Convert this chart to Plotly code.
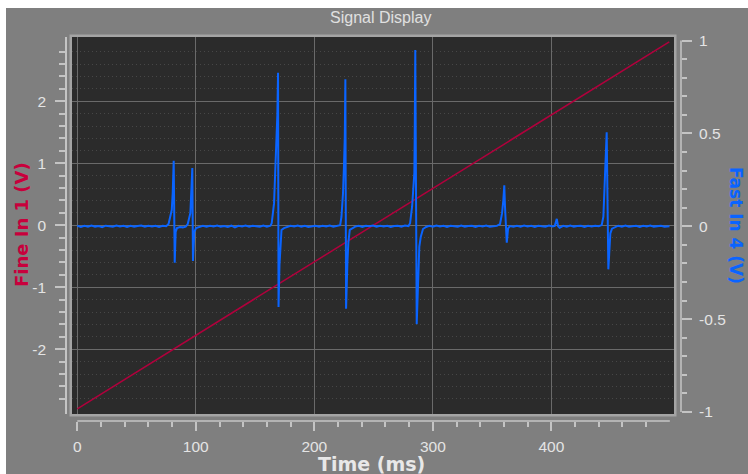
import plotly.graph_objects as go

# ---------------- data ----------------
X_TICKS = [0, 100, 200, 300, 400]
X_TICK_TEXT = ["0", "100", "200", "300", "400"]
X_MINOR = [20, 40, 60, 80, 120, 140, 160, 180, 220, 240, 260, 280,
           320, 340, 360, 380, 420, 440, 460, 480]
L_TICKS = [-2, -1, 0, 1, 2]
L_TICK_TEXT = ["-2", "-1", "0", "1", "2"]
L_MINOR = [-2.8, -2.6, -2.4, -2.2, -1.8, -1.6, -1.4, -1.2, -0.8, -0.6, -0.4, -0.2,
           0.2, 0.4, 0.6, 0.8, 1.2, 1.4, 1.6, 1.8, 2.2, 2.4, 2.6, 2.8]
R_TICKS = [-1, -0.5, 0, 0.5, 1]
R_TICK_TEXT = ["-1", "-0.5", "0", "0.5", "1"]
R_MINOR = [-0.9, -0.8, -0.7, -0.6, -0.4, -0.3, -0.2, -0.1,
           0.1, 0.2, 0.3, 0.4, 0.6, 0.7, 0.8, 0.9]

# Fine In 1 (V): ramp
RED_T = [0, 499.5]
RED_V = [-2.96, 2.96]

# Fast In 4 (V): spikes on a noisy baseline
BLUE_T = [0, 3, 6, 9, 12, 15, 18, 21, 24, 27, 30, 33, 36, 39, 42, 45, 48, 51, 54, 57,
          60, 63, 66, 69, 72, 75,
          77.0, 79.7, 80.5, 81.35, 82.2, 83.0, 84.1, 86.6,
          89, 91.5,
          93.2, 95.4, 96.2, 97.05, 97.6, 98.7, 100.2,
          103, 106, 109, 112, 115, 118, 121, 124, 127, 130, 133, 136, 139, 142, 145,
          148, 151, 154, 157, 160, 163,
          164.05, 166.0, 167.1, 168.0, 168.8, 169.4, 169.8, 170.6, 171.6, 172.3, 174.4,
          177, 180, 183, 186, 189, 192, 195, 198, 201, 204, 207, 210, 213, 216, 219,
          221.8, 222.9, 224.2, 225.1, 225.7, 226.2, 226.8, 227.9, 228.7, 229.9, 231.9,
          234.5, 237.5, 240.5, 243.5, 246.5, 249.5, 252.5, 255.5, 258.5, 261.5, 264.5,
          267.5, 270.5, 273.5, 276.5, 279.5,
          280.8, 282.5, 283.5, 284.4, 284.7, 285.2, 286.4, 287.5, 288.6, 289.8, 291.7, 294.3,
          297, 300, 303, 306, 309, 312, 315, 318, 321, 324, 327, 330, 333, 336, 339,
          342, 345, 348, 351, 354,
          356.7, 358.4, 359.5, 360.3, 360.9, 362.4, 363.5, 365.1,
          368, 371, 374, 377, 380, 383, 386, 389, 392, 395, 398, 401,
          402.9, 404.6, 405.7, 407,
          410, 413, 416, 419, 422, 425, 428, 431, 434, 437, 440,
          442.5, 443.9, 444.7, 445.3, 445.9, 446.7, 448.1, 448.9, 449.8, 451.2, 453.7,
          456.5, 459.5, 462.5, 465.5, 468.5, 471.5, 474.5, 477.5, 480.5, 483.5, 486.5,
          489.5, 492.5, 495.5, 498.5, 499.7]
BLUE_V = [0.003, -0.004, 0.002, -0.003, 0.004, -0.002, 0.001, -0.005, 0.003, 0.000,
          -0.003, 0.004, -0.001, 0.002, -0.004, 0.003, -0.002, 0.001, 0.004, -0.003,
          0.002, -0.001, 0.003, -0.004, 0.002, 0.000,
          0.012, 0.087, 0.179, 0.353, -0.197, -0.030, -0.010, -0.004,
          -0.006, -0.002,
          0.012, 0.071, 0.159, 0.313, -0.187, -0.031, -0.010,
          -0.004, 0.002, -0.003, 0.003, -0.001, 0.004, -0.002, 0.001, -0.004, 0.003,
          -0.006, 0.002, -0.001, 0.004, -0.003, 0.002, 0.000, -0.003, 0.004, -0.002, 0.003,
          0.016, 0.123, 0.276, 0.410, 0.599, 0.827, -0.435, -0.209, -0.064, -0.020, -0.010,
          -0.003, 0.002, -0.001, 0.004, -0.002, 0.003, -0.004, 0.001, 0.003, -0.003,
          0.002, -0.001, 0.004, -0.002, 0.001,
          0.006, 0.051, 0.177, 0.339, 0.482, 0.791, -0.444, -0.200, -0.090, -0.020, -0.010,
          -0.002, 0.003, -0.004, 0.002, 0.000, 0.004, -0.003, 0.002, -0.001, 0.003,
          -0.004, 0.001, 0.003, -0.002, 0.004, 0.001,
          0.016, 0.105, 0.213, 0.286, 0.480, 0.949, -0.527, -0.254, -0.110, -0.058, -0.015, -0.004,
          0.002, -0.003, 0.004, -0.001, 0.003, -0.004, 0.002, 0.000, -0.003, 0.004,
          -0.002, 0.001, 0.003, -0.004, 0.002, -0.001, 0.004, -0.003, 0.001, 0.002,
          0.012, 0.069, 0.141, 0.220, 0.105, -0.089, -0.011, 0.001,
          -0.003, 0.003, -0.002, 0.004, -0.001, 0.002, -0.004, 0.003, 0.000, -0.002,
          0.004, -0.001,
          0.002, 0.040, 0.000, -0.008,
          0.002, -0.003, 0.004, -0.002, 0.001, 0.003, -0.004, 0.002, -0.001, 0.003, 0.000,
          0.006, 0.051, 0.159, 0.267, 0.394, 0.506, -0.232, -0.110, -0.038, -0.013, -0.004,
          0.003, -0.002, 0.004, -0.003, 0.001, 0.002, -0.004, 0.003, -0.001, 0.004,
          -0.002, 0.001, 0.003, -0.003, 0.002, 0.000]

# ---------------- geometry (pixels) ----------------
W, H = 748, 474
AX_L, AX_R = 66, 681      # left / right axis line x
TOP, XAX_Y = 37, 421      # plot top, x-axis line y
PW, PH = AX_R - AX_L, XAX_Y - TOP


def fx(p):
    return (p - AX_L) / PW


def fy(p):
    return (XAX_Y - p) / PH


BG = "#7f7f7f"
PLOT_BG = "#2b2b2b"
GRID = "#6a6a6a"
MINOR_GRID = "#474747"
AXIS = "#c4c4c4"
TICKTXT = "#e4e4e4"
TICKFONT = dict(family="Liberation Sans, Arial, sans-serif", size=15.5, color=TICKTXT)

fig = go.Figure()
fig.add_trace(go.Scatter(x=RED_T, y=RED_V, mode="lines", yaxis="y",
                         line=dict(color="#b0003c", width=1.5), hoverinfo="skip"))
fig.add_trace(go.Scatter(x=BLUE_T, y=BLUE_V, mode="lines", yaxis="y2",
                         line=dict(color="#0a64ff", width=2), hoverinfo="skip"))

fig.update_layout(
    width=W, height=H,
    margin=dict(l=AX_L, r=W - AX_R, t=TOP, b=H - XAX_Y, pad=0),
    paper_bgcolor=BG, plot_bgcolor=PLOT_BG,
    showlegend=False, hovermode=False,
    xaxis=dict(
        domain=[fx(72), fx(674)], range=[-4.47, 503.5],
        anchor="free", position=0,
        showline=False, zeroline=False,
        showgrid=True, gridcolor=GRID, gridwidth=1,
        tickmode="array", tickvals=X_TICKS, ticktext=X_TICK_TEXT,
        ticks="outside", ticklen=9, tickwidth=1.5, tickcolor=AXIS,
        tickfont=TICKFONT, ticklabelstandoff=2,
        minor=dict(tickmode="array", tickvals=X_MINOR, ticks="outside",
                   ticklen=5, tickwidth=1.5, tickcolor=AXIS, showgrid=False),
    ),
    yaxis=dict(
        domain=[fy(414), 1], range=[-3.044, 3.037],
        anchor="free", position=0, side="left",
        showline=True, linecolor=AXIS, linewidth=1.5, zeroline=False,
        showgrid=True, gridcolor=GRID, gridwidth=1,
        tickmode="array", tickvals=L_TICKS, ticktext=L_TICK_TEXT,
        ticks="outside", ticklen=10, tickwidth=1.5, tickcolor=AXIS,
        tickfont=TICKFONT, ticklabelstandoff=6,
        minor=dict(tickmode="array", tickvals=L_MINOR, ticks="outside",
                   ticklen=6, tickwidth=1.5, tickcolor=AXIS,
                   showgrid=True, gridcolor=MINOR_GRID, gridwidth=1,
                   griddash="1px,3px"),
    ),
    yaxis2=dict(
        domain=[fy(414), 1], range=[-1.011, 1.019],
        overlaying="y", anchor="free", position=1, side="right",
        showline=False, zeroline=False, showgrid=False,
        tickmode="array", tickvals=R_TICKS, ticktext=R_TICK_TEXT,
        ticks="outside", ticklen=10, tickwidth=1.5, tickcolor=AXIS,
        tickfont=TICKFONT, ticklabelstandoff=4,
        minor=dict(tickmode="array", tickvals=R_MINOR, ticks="outside",
                   ticklen=5, tickwidth=1.5, tickcolor=AXIS, showgrid=False),
    ),
    shapes=[
        # right axis line (spans -1..1)
        dict(type="line", xref="paper", yref="y2", x0=1, x1=1, y0=-1, y1=1,
             line=dict(color=AXIS, width=1.5)),
        # x axis line (0..500) detached below the plot
        dict(type="line", xref="x", yref="paper", x0=0, x1=500, y0=0, y1=0,
             line=dict(color=AXIS, width=1.5)),
        # plot frame
        dict(type="rect", xref="paper", yref="paper",
             x0=fx(70.75), x1=fx(675.25), y0=fy(415.25), y1=fy(35.75),
             line=dict(color="#a4a4a4", width=2.5)),
        # white strips at top / left edges
        dict(type="rect", xref="paper", yref="paper", x0=fx(0), x1=fx(W),
             y0=fy(8), y1=fy(0), fillcolor="white", line=dict(width=0)),
        dict(type="rect", xref="paper", yref="paper", x0=fx(0), x1=fx(6),
             y0=fy(H), y1=fy(0), fillcolor="white", line=dict(width=0)),
    ],
    annotations=[
        dict(text="Signal Display", xref="paper", yref="paper", x=fx(380), y=fy(17.5),
             xanchor="center", yanchor="middle", showarrow=False,
             font=dict(family="Liberation Sans, Arial, sans-serif", size=16, color="#e0e0e0")),
        dict(text="Fine In 1 (V)", xref="paper", yref="paper", x=fx(21), y=fy(225),
             xanchor="center", yanchor="middle", showarrow=False, textangle=-90,
             font=dict(family="DejaVu Sans", size=18, color="#c8003c", weight="bold")),
        dict(text="Fast In 4 (V)", xref="paper", yref="paper", x=fx(736), y=fy(225),
             xanchor="center", yanchor="middle", showarrow=False, textangle=90,
             font=dict(family="DejaVu Sans", size=17, color="#0a64ff", weight="bold")),
        dict(text="Time (ms)", xref="paper", yref="paper", x=fx(371), y=fy(464),
             xanchor="center", yanchor="middle", showarrow=False,
             font=dict(family="DejaVu Sans", size=19, color="#e8e8e8", weight="bold")),
    ],
)

fig.write_html("out.html", config={"displayModeBar": False})
